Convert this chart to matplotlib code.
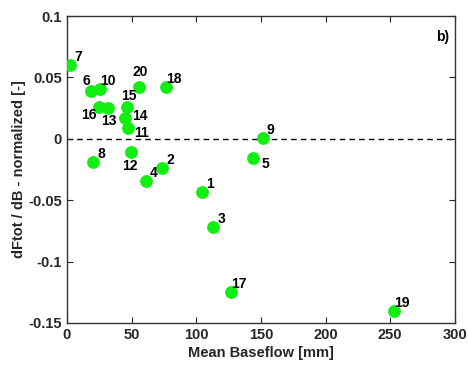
import matplotlib
matplotlib.use('Agg')
import matplotlib.pyplot as plt

plt.rcParams['font.family'] = ['Liberation Sans', 'DejaVu Sans']
plt.rcParams['font.weight'] = 'bold'

# catchment ids, mean baseflow [mm], normalized dFtot/dB
ids = ['1', '2', '3', '4', '5', '6', '7', '8', '9', '10',
       '11', '12', '13', '14', '15', '16', '17', '18', '19', '20']
baseflow = [104.2, 73.7, 113.2, 60.9, 144.0, 18.3, 2.3, 20.4, 151.3, 25.5,
            47.4, 49.5, 32.0, 44.9, 46.1, 25.0, 126.6, 76.3, 253.1, 55.7]
sens = [-0.0429, -0.0240, -0.0719, -0.0347, -0.0157, 0.0390, 0.0600, -0.0185, 0.0005, 0.0405,
        0.0087, -0.0103, 0.0250, 0.0174, 0.0258, 0.0258, -0.1248, 0.0420, -0.1406, 0.0426]

# label offsets in pixels (dx right, dy up)
offs = {'6': (-4, 10), '16': (-10, -8), '13': (1, -13), '15': (2, 11),
        '14': (15, 2), '11': (13, -5), '12': (-1, -14), '5': (12, -6), '20': (1, 15)}

fig = plt.figure(figsize=(4.68, 3.66), dpi=100)
ax = fig.add_axes([0.143, 0.1175, 0.829, 0.8385])

ax.axhline(0, color='black', linestyle='--', linewidth=1.0, dashes=(4, 3), zorder=1)
ax.scatter(baseflow, sens, s=85, color='#11ee11', zorder=3, linewidths=0)

for i, x, y in zip(ids, baseflow, sens):
    dx, dy = offs.get(i, (8, 8))
    ax.annotate(i, (x, y), xytext=(dx * 0.72, dy * 0.72), textcoords='offset points',
                ha='center', va='center', fontsize=10, fontweight='bold', zorder=4)

ax.text(0.985, 0.955, 'b)', transform=ax.transAxes, ha='right', va='top',
        fontsize=10, fontweight='bold')

ax.set_xlim(0, 300)
ax.set_ylim(-0.15, 0.1)
ax.set_xticks([0, 50, 100, 150, 200, 250, 300])
ax.set_yticks([-0.15, -0.1, -0.05, 0, 0.05, 0.1])
ax.set_yticklabels(['-0.15', '-0.1', '-0.05', '0', '0.05', '0.1'])
ax.tick_params(direction='in', top=True, right=True, labelsize=10.5, color='#262626',
               labelcolor='#262626', length=4)
for sp in ax.spines.values():
    sp.set_color('#333333')
    sp.set_linewidth(1.0)

ax.set_xlabel('Mean Baseflow [mm]', fontsize=10.5, fontweight='bold', color='#262626', labelpad=3)
ax.set_ylabel('dFtot / dB - normalized [-]', fontsize=10.5, fontweight='bold', color='#262626', labelpad=2)

fig.savefig('out.png', dpi=100)
